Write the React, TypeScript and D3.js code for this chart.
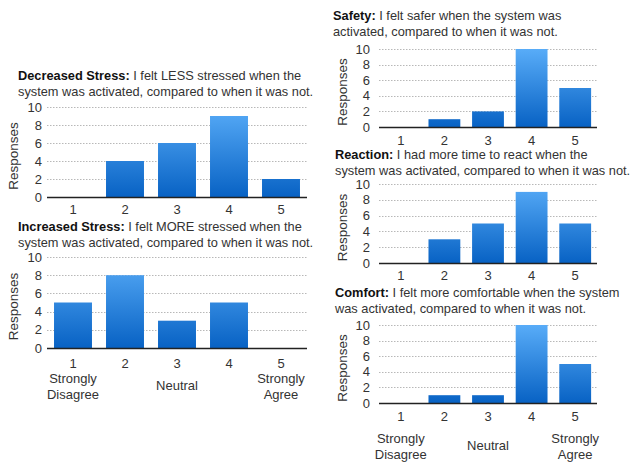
import React from "react";
import * as d3 from "d3";

const likert = ["1", "2", "3", "4", "5"];
const yTicks = [0, 2, 4, 6, 8, 10];

const decreasedStress = [0, 4, 6, 9, 2];
const increasedStress = [5, 8, 3, 5, 0];
const safety = [0, 1, 2, 10, 5];
const reaction = [0, 3, 5, 9, 5];
const comfort = [0, 1, 1, 10, 5];

const titles = {
  decreased: ["Decreased Stress:", " I felt LESS stressed when the", "system was activated, compared to when it was not."],
  increased: ["Increased Stress:", " I felt MORE stressed when the", "system was activated, compared to when it was not."],
  safety: ["Safety:", " I felt safer when the system was", "activated, compared to when it was not."],
  reaction: ["Reaction:", " I had more time to react when the", "system was activated, compared to when it was not."],
  comfort: ["Comfort:", " I felt more comfortable when the system", "was activated, compared to when it was not."],
};

const FONT = "'Liberation Sans', Arial, Helvetica, sans-serif";
const TITLE_SIZE = 12.8;

type PanelProps = {
  id: string;
  values: number[];
  title: string[];
  titleX: number;
  titleY: number;
  x0: number;
  x1: number;
  yTop: number;
  yBase: number;
  tickGap: number;
  labelX: number;
  tickLabelY: number;
  anchors?: { strongY: number; neutralY: number };
};

function Panel(p: PanelProps) {
  const x = d3.scaleBand<string>().domain(likert).range([p.x0, p.x1]).paddingInner(0.27).paddingOuter(0.135);
  const y = d3.scaleLinear().domain([0, 10]).range([p.yBase, p.yTop]);
  const gradId = `grad-${p.id}`;
  const midY = (p.yTop + p.yBase) / 2;
  const center = (c: string) => x(c)! + x.bandwidth() / 2;
  return (
    <g>
      <defs>
        <linearGradient id={gradId} gradientUnits="userSpaceOnUse" x1="0" y1={p.yTop} x2="0" y2={p.yBase}>
          <stop offset="0" stopColor="#58acf8" />
          <stop offset="1" stopColor="#0862c4" />
        </linearGradient>
      </defs>
      <text x={p.titleX} y={p.titleY} fontSize={TITLE_SIZE} fill="#333" fontFamily={FONT}>
        <tspan fontWeight="bold" fill="#111">{p.title[0]}</tspan>
        <tspan>{p.title[1]}</tspan>
      </text>
      <text x={p.titleX} y={p.titleY + 16} fontSize={TITLE_SIZE} fill="#333" fontFamily={FONT}>
        {p.title[2]}
      </text>
      {yTicks.filter((t) => t > 0).map((t) => (
        <line key={t} x1={p.x0} x2={p.x1} y1={Math.round(y(t)) + 0.5} y2={Math.round(y(t)) + 0.5}
          stroke="#b8b8b8" strokeWidth={1} strokeDasharray="1.5,1.5" />
      ))}
      {yTicks.map((t) => (
        <text key={t} x={p.x0 - p.tickGap} y={y(t) + 4.5} textAnchor="end" fontSize={13} fill="#333" fontFamily={FONT}>
          {t}
        </text>
      ))}
      <text transform={`translate(${p.labelX},${midY + 4}) rotate(-90)`} textAnchor="middle" fontSize={13.5}
        fill="#333" fontFamily={FONT}>Responses</text>
      {p.values.map((v, i) => (
        v > 0 ? (
          <rect key={i} x={x(likert[i])!} width={x.bandwidth()} y={y(v)} height={p.yBase - y(v)} fill={`url(#${gradId})`} />
        ) : null
      ))}
      <line x1={p.x0} x2={p.x1} y1={p.yBase + 0.5} y2={p.yBase + 0.5} stroke="#222" strokeWidth={1.3} />
      {likert.map((c) => (
        <text key={c} x={center(c)} y={p.tickLabelY} textAnchor="middle" fontSize={13} fill="#333" fontFamily={FONT}>
          {c}
        </text>
      ))}
      {p.anchors && (
        <g fontSize={13} fill="#333" fontFamily={FONT} textAnchor="middle">
          <text x={center("1")} y={p.anchors.strongY}>Strongly</text>
          <text x={center("1")} y={p.anchors.strongY + 16}>Disagree</text>
          <text x={center("3")} y={p.anchors.neutralY}>Neutral</text>
          <text x={center("5")} y={p.anchors.strongY}>Strongly</text>
          <text x={center("5")} y={p.anchors.strongY + 16}>Agree</text>
        </g>
      )}
    </g>
  );
}

export default function App() {
  return (
    <svg width={630} height={463} style={{ position: "absolute", left: 0, top: 0, background: "#fff" }}>
      <rect width={630} height={463} fill="#fff" />
      <Panel id="dec" values={decreasedStress} title={titles.decreased} titleX={18} titleY={80}
        x0={47} x1={307} yTop={107} yBase={197} tickGap={5} labelX={18} tickLabelY={214} />
      <Panel id="inc" values={increasedStress} title={titles.increased} titleX={18} titleY={231}
        x0={47} x1={307} yTop={257} yBase={348} tickGap={5} labelX={18} tickLabelY={368}
        anchors={{ strongY: 383, neutralY: 390 }} />
      <Panel id="saf" values={safety} title={titles.safety} titleX={333} titleY={20}
        x0={379} x1={597} yTop={49} yBase={127} tickGap={9} labelX={347} tickLabelY={145} />
      <Panel id="rea" values={reaction} title={titles.reaction} titleX={335} titleY={159}
        x0={379} x1={597} yTop={184} yBase={263} tickGap={9} labelX={347} tickLabelY={280} />
      <Panel id="com" values={comfort} title={titles.comfort} titleX={335} titleY={297}
        x0={379} x1={597} yTop={325} yBase={403} tickGap={9} labelX={347} tickLabelY={421}
        anchors={{ strongY: 443, neutralY: 450 }} />
    </svg>
  );
}
